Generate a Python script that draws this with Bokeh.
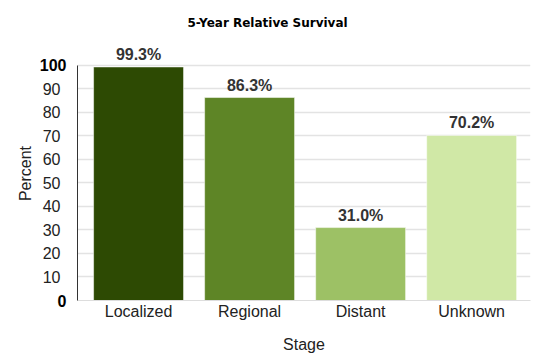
from bokeh.plotting import figure
from bokeh.models import ColumnDataSource, LabelSet, Range1d, FixedTicker, Title, LinearAxis
from bokeh.core.properties import value
from bokeh.embed import file_html
from bokeh.resources import INLINE

stages = ["Localized", "Regional", "Distant", "Unknown"]
survival = [99.3, 86.3, 31.0, 70.2]
colors = ["#2d4a03", "#5e8526", "#9dc165", "#d0e8a6"]
y_ticks = [10, 20, 30, 40, 50, 60, 70, 80, 90]
bold_ticks = [0, 100]

xs = list(range(len(stages)))
src = ColumnDataSource(dict(
    x=xs, top=survival, color=colors,
    label=[f"{v:.1f}%" for v in survival],
))

p = figure(frame_width=453, frame_height=254, output_backend="svg", toolbar_location=None,
           x_range=Range1d(-0.55, 3.53), y_range=Range1d(0, 108),
           min_border_left=77, min_border_right=10, min_border_top=45,
           min_border_bottom=58, y_axis_location=None)
p.outline_line_color = None
p.background_fill_color = "white"

p.add_layout(Title(text="5-Year Relative Survival", text_font="DejaVu Sans",
                   text_font_size="12px", text_font_style="bold",
                   text_color="#000000", align="left", offset=110,
                   vertical_align="top", standoff=30), "above")

p.vbar(x="x", top="top", bottom=0, width=0.81, fill_color="color",
       line_color="#ffffff", line_alpha=0.5, line_width=1, source=src)

p.add_layout(LabelSet(x="x", y="top", text="label", source=src,
                      text_align="center", text_baseline="bottom", y_offset=4,
                      text_font=value("Liberation Sans"), text_font_size=value("16px"),
                      text_font_style="bold", text_color="#333333"))

# x axis
p.xaxis.ticker = FixedTicker(ticks=xs)
p.xaxis.major_label_overrides = {i: s for i, s in enumerate(stages)}
p.xaxis.axis_label = "Stage"
p.xaxis.axis_line_color = "#dddddd"
p.xaxis.major_tick_line_color = None
p.xaxis.minor_tick_line_color = None
p.xaxis.major_label_standoff = -4
p.xaxis.axis_label_standoff = 13
p.xaxis.major_label_text_font = "Liberation Sans"
p.xaxis.major_label_text_font_size = "16px"
p.xaxis.major_label_text_color = "#222222"
p.xaxis.axis_label_text_font = "Liberation Sans"
p.xaxis.axis_label_text_font_size = "16px"
p.xaxis.axis_label_text_font_style = "normal"
p.xaxis.axis_label_text_color = "#222222"
p.xgrid.grid_line_color = None

# inner y axis: axis line + bold 0 / 100
inner = LinearAxis(ticker=FixedTicker(ticks=bold_ticks), bounds=(0, 100),
                   axis_line_color="#333333", major_tick_line_color=None,
                   minor_tick_line_color=None, major_label_standoff=5,
                   major_label_text_font="Liberation Sans", major_label_text_font_size="16px",
                   major_label_text_font_style="bold", major_label_text_color="#000000")
p.add_layout(inner, "left")

# outer y axis: normal labels 10..90 shifted to align with inner labels
outer = LinearAxis(ticker=FixedTicker(ticks=y_ticks), axis_line_color=None,
                   major_tick_line_color=None, minor_tick_line_color=None,
                   major_label_standoff=-30, axis_label="Percent",
                   axis_label_standoff=6,
                   major_label_text_font="Liberation Sans", major_label_text_font_size="16px",
                   major_label_text_color="#222222",
                   axis_label_text_font="Liberation Sans", axis_label_text_font_size="16px",
                   axis_label_text_font_style="normal", axis_label_text_color="#222222")
p.add_layout(outer, "left")

p.ygrid.ticker = FixedTicker(ticks=bold_ticks + y_ticks)
p.ygrid.grid_line_color = "#e3e3e3"
p.ygrid.grid_line_width = 1.5

open("out.html", "w").write(file_html(p, INLINE))
